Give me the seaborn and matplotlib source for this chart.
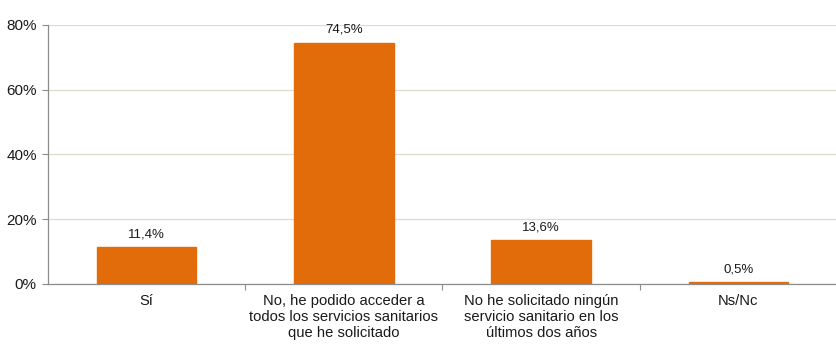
import matplotlib
matplotlib.use('Agg')
import matplotlib.pyplot as plt
import seaborn as sns
import pandas as pd
import numpy as np
from matplotlib.ticker import FixedLocator, NullFormatter

categories = ['Sí',
              'No, he podido acceder a\ntodos los servicios sanitarios\nque he solicitado',
              'No he solicitado ningún\nservicio sanitario en los\núltimos dos años',
              'Ns/Nc']
values = [11.4, 74.5, 13.6, 0.5]
labels = ['11,4%', '74,5%', '13,6%', '0,5%']

df = pd.DataFrame({'cat': categories, 'val': values})

sns.set_style('white')
plt.rcParams['font.family'] = ['Liberation Sans', 'DejaVu Sans']

fig = plt.figure(figsize=(8.37, 3.5), dpi=100)
ax = fig.add_axes([0.0573, 0.1886, 0.9427, 0.74])

sns.barplot(data=df, x='cat', y='val', color='#E36C0A', saturation=1, width=0.505,
            edgecolor='#E36C0A', linewidth=1.0, ax=ax)
for p in ax.patches:
    p.set_zorder(3)

ax.set_xlim(-0.5, 3.5)
ax.set_ylim(0, 80)
ax.set_yticks([0, 20, 40, 60, 80])
ax.set_yticklabels(['0%', '20%', '40%', '60%', '80%'], fontsize=11, color='#1a1a1a')
ax.yaxis.grid(True, color='#DDDCCB', linewidth=0.9)
ax.set_axisbelow(True)

# category boundaries as major ticks, labels on minor ticks
ax.xaxis.set_major_locator(FixedLocator([0.5, 1.5, 2.5]))
ax.xaxis.set_major_formatter(NullFormatter())
ax.xaxis.set_minor_locator(FixedLocator(range(len(categories))))
ax.set_xticklabels(categories, minor=True, fontsize=10.6, linespacing=1.2, color='#1a1a1a')
ax.tick_params(axis='x', which='major', length=4, color='#8C8C8C', direction='out', bottom=True)
ax.tick_params(axis='x', which='minor', length=0, pad=7)
ax.tick_params(axis='y', length=4, color='#8C8C8C', direction='out', left=True, pad=4)

for side in ['top', 'right']:
    ax.spines[side].set_visible(False)
for side in ['left', 'bottom']:
    ax.spines[side].set_color('#8C8C8C')
    ax.spines[side].set_linewidth(0.9)

ax.set_xlabel('')
ax.set_ylabel('')

for i, (v, t) in enumerate(zip(values, labels)):
    ax.annotate(t, (i, v), xytext=(0, 5), textcoords='offset points',
                ha='center', va='bottom', fontsize=9.5, color='#1a1a1a')

plt.savefig('out.png', dpi=100)
